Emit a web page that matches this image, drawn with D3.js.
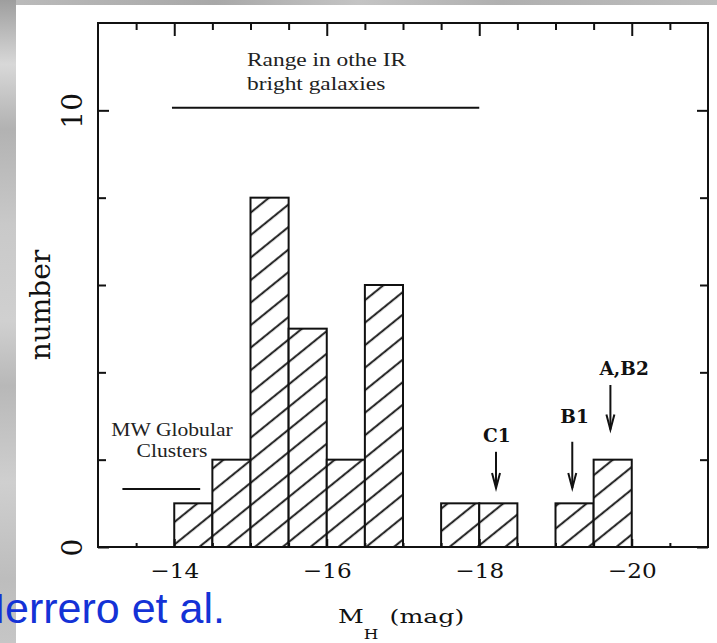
<!DOCTYPE html>
<html>
<head>
<meta charset="utf-8">
<script src="https://cdn.jsdelivr.net/npm/d3@7"></script>
<style>
  html, body { margin: 0; padding: 0; background: #fff; overflow: hidden; }
  svg { display: block; }
</style>
</head>
<body>
<svg id="chart" width="717" height="643"></svg>
<script>
// ---------------- data ----------------
const binStarts = [-14, -14.5, -15, -15.5, -16, -16.5, -17.5, -18, -19, -19.5];
const binCounts = [1, 2, 8, 5, 2, 6, 1, 1, 1, 2];
const binWidth = 0.5;

const xMajorTicks = [-14, -16, -18, -20];
const xMinorTicks = [-13.5, -14.5, -15, -15.5, -16.5, -17, -17.5, -18.5, -19, -19.5, -20.5];
const yMajorTicks = [0, 10];
const yMinorTicks = [2, 4, 6, 8];

const arrowLabels = ["C1", "B1", "A,B2"];
const arrowX = [-18.22, -19.22, -19.72];
const arrowTop = [2.18, 2.41, 3.71];
const arrowTip = [1.35, 1.35, 2.69];
const arrowLabelX = [-18.23, -19.25, -19.9];
const arrowLabelY = [2.41, 2.84, 3.94];

const rangeLineX = [-13.97, -18];
const rangeLineY = 10.06;
const rangeText = ["Range in othe IR", "bright galaxies"];

const mwLineX = [-13.32, -14.34];
const mwLineY = 1.33;
const mwText = ["MW Globular", "Clusters"];

(function () {
// ---------------- setup ----------------
const svg = d3.select("#chart");
const W = 717, H = 643;
const pL = 98, pR = 708, pT = 23, pB = 547;

const x = d3.scaleLinear().domain([-13, -21]).range([pL, pR]);
const y = d3.scaleLinear().domain([0, 12]).range([pB, pT]);

// background strips (photo backdrop)
const defs = svg.append("defs");
const g1 = defs.append("linearGradient").attr("id", "bgV").attr("x1", 0).attr("y1", 0).attr("x2", 0).attr("y2", 1);
[[0, "#9e9e9e"], [0.1, "#d8d8d8"], [0.2, "#b2b2b2"], [0.35, "#c9c9c9"], [0.5, "#d0d0d0"],
 [0.6, "#b8b8b8"], [0.75, "#cfcfcf"], [0.9, "#bdbdbd"], [1, "#c6c6c6"]]
  .forEach(([o, c]) => g1.append("stop").attr("offset", o).attr("stop-color", c));
const g2 = defs.append("linearGradient").attr("id", "bgH").attr("x1", 0).attr("y1", 0).attr("x2", 1).attr("y2", 0);
[[0, "#bcbcbc"], [0.3, "#a8a8a8"], [0.5, "#c4c4c4"], [0.7, "#b0b0b0"], [1, "#bdbdbd"]]
  .forEach(([o, c]) => g2.append("stop").attr("offset", o).attr("stop-color", c));

svg.append("rect").attr("x", 0).attr("y", 0).attr("width", W).attr("height", H).attr("fill", "#ffffff");
svg.append("rect").attr("x", 0).attr("y", 0).attr("width", W).attr("height", 5).attr("fill", "url(#bgH)");
svg.append("rect").attr("x", 0).attr("y", 0).attr("width", 16).attr("height", H).attr("fill", "url(#bgV)");

// hatch pattern
const pat = defs.append("pattern")
  .attr("id", "hatch")
  .attr("patternUnits", "userSpaceOnUse")
  .attr("width", 10).attr("height", 17.5)
  .attr("patternTransform", "rotate(-39)");
pat.append("rect").attr("width", 10).attr("height", 17.5).attr("fill", "#fff");
pat.append("line").attr("x1", 0).attr("x2", 10).attr("y1", 8).attr("y2", 8)
  .attr("stroke", "#111").attr("stroke-width", 1.9);

// ---------------- bars ----------------
const bars = binStarts.map((s, i) => ({ s, e: s - binWidth, c: binCounts[i] }));
svg.append("g").selectAll("rect").data(bars).join("rect")
  .attr("x", d => x(d.s))
  .attr("y", d => y(d.c))
  .attr("width", d => x(d.e) - x(d.s))
  .attr("height", d => y(0) - y(d.c))
  .attr("fill", "url(#hatch)")
  .attr("stroke", "#111")
  .attr("stroke-width", 2);

// ---------------- axes ----------------
function clean(g) { g.select(".domain").remove(); g.selectAll("line").attr("stroke", "#111").attr("stroke-width", 2); }

svg.append("g").attr("transform", `translate(0,${pT})`)
  .call(d3.axisTop(x).tickValues(xMajorTicks).tickSize(-13).tickFormat(""))
  .call(clean);
svg.append("g").attr("transform", `translate(0,${pT})`)
  .call(d3.axisTop(x).tickValues(xMinorTicks).tickSize(-7).tickFormat(""))
  .call(clean);
const xb = svg.append("g").attr("transform", `translate(0,${pB})`)
  .call(d3.axisBottom(x).tickValues(xMajorTicks).tickSize(-8).tickPadding(0))
  .call(clean);
xb.selectAll("text")
  .attr("y", 31).attr("dy", 0)
  .attr("transform", "scale(1.1,1)")
  .attr("font-family", "DejaVu Serif")
  .attr("font-size", 21)
  .attr("fill", "#111");
svg.append("g").attr("transform", `translate(0,${pB})`)
  .call(d3.axisBottom(x).tickValues(xMinorTicks).tickSize(-4).tickFormat(""))
  .call(clean);
const yl = svg.append("g").attr("transform", `translate(${pL},0)`)
  .call(d3.axisLeft(y).tickValues(yMajorTicks).tickSize(-11))
  .call(clean);
yl.selectAll("text")
  .attr("x", 0).attr("y", 0).attr("dy", 0)
  .attr("transform", "translate(-16,0) rotate(-90)")
  .attr("text-anchor", "middle")
  .attr("font-family", "DejaVu Serif")
  .attr("font-size", 28)
  .attr("fill", "#111");
svg.append("g").attr("transform", `translate(${pL},0)`)
  .call(d3.axisLeft(y).tickValues(yMinorTicks).tickSize(-8).tickFormat(""))
  .call(clean);
svg.append("g").attr("transform", `translate(${pR},0)`)
  .call(d3.axisRight(y).tickValues(yMajorTicks).tickSize(-11).tickFormat(""))
  .call(clean);
svg.append("g").attr("transform", `translate(${pR},0)`)
  .call(d3.axisRight(y).tickValues(yMinorTicks).tickSize(-8).tickFormat(""))
  .call(clean);

// frame
svg.append("rect")
  .attr("x", pL).attr("y", pT)
  .attr("width", pR - pL).attr("height", pB - pT)
  .attr("fill", "none").attr("stroke", "#111").attr("stroke-width", 2);

// axis titles
svg.append("text")
  .attr("transform", `translate(50,305) rotate(-90)`)
  .attr("text-anchor", "middle")
  .attr("font-family", "DejaVu Serif")
  .attr("font-size", 28)
  .attr("fill", "#111")
  .text("number");

const xt = svg.append("text")
  .attr("transform", "translate(338,623) scale(1.4,1)")
  .attr("font-family", "DejaVu Serif")
  .attr("font-size", 18)
  .attr("fill", "#111");
xt.append("tspan").text("M");
xt.append("tspan").attr("font-size", 12).attr("dy", 16).text("H");
xt.append("tspan").attr("dy", -16).attr("dx", 8).text("(mag)");

// ---------------- annotations ----------------
svg.append("line")
  .attr("x1", x(rangeLineX[0])).attr("x2", x(rangeLineX[1]))
  .attr("y1", y(rangeLineY)).attr("y2", y(rangeLineY))
  .attr("stroke", "#111").attr("stroke-width", 2);
rangeText.forEach((t, i) => {
  svg.append("text")
    .attr("transform", `translate(247,${66 + i * 24}) scale(1.2,1)`)
    .attr("font-family", "Liberation Serif")
    .attr("font-size", 19.5)
    .attr("fill", "#222")
    .text(t);
});

svg.append("line")
  .attr("x1", x(mwLineX[0])).attr("x2", x(mwLineX[1]))
  .attr("y1", y(mwLineY)).attr("y2", y(mwLineY))
  .attr("stroke", "#111").attr("stroke-width", 2);
mwText.forEach((t, i) => {
  svg.append("text")
    .attr("transform", `translate(172,${436 + i * 21}) scale(1.2,1)`)
    .attr("text-anchor", "middle")
    .attr("font-family", "Liberation Serif")
    .attr("font-size", 18)
    .attr("fill", "#222")
    .text(t);
});

arrowLabels.forEach((lab, i) => {
  const ax = x(arrowX[i]), t0 = y(arrowTop[i]), t1 = y(arrowTip[i]);
  svg.append("line").attr("x1", ax).attr("x2", ax).attr("y1", t0).attr("y2", t1)
    .attr("stroke", "#111").attr("stroke-width", 2);
  svg.append("path")
    .attr("d", `M${ax - 4},${t1 - 15} L${ax},${t1} L${ax + 4},${t1 - 15}`)
    .attr("fill", "none").attr("stroke", "#111").attr("stroke-width", 2);
  svg.append("text")
    .attr("x", x(arrowLabelX[i])).attr("y", y(arrowLabelY[i]))
    .attr("text-anchor", "middle")
    .attr("font-family", "DejaVu Serif")
    .attr("font-weight", "bold")
    .attr("font-size", 18.5)
    .attr("fill", "#111")
    .text(lab);
});

svg.append("text")
  .attr("x", -26).attr("y", 623)
  .attr("font-family", "Liberation Sans")
  .attr("font-size", 43)
  .attr("fill", "#1432d6")
  .text("Herrero et al.");
})();
</script>
</body>
</html>
